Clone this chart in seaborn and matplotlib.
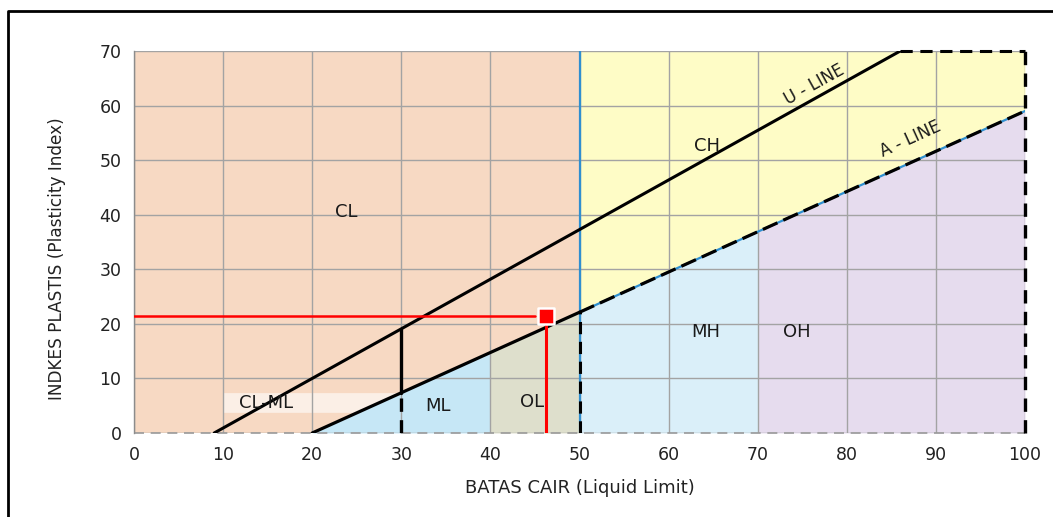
import numpy as np
import matplotlib
matplotlib.use("Agg")
import matplotlib.pyplot as plt
from matplotlib.lines import Line2D
from matplotlib import font_manager
import seaborn as sns

# Plasticity chart data
ll_ticks = [0, 10, 20, 30, 40, 50, 60, 70, 80, 90, 100]
pi_ticks = [0, 10, 20, 30, 40, 50, 60, 70]

u_line_ll = [9.0, 86.0]
u_line_pi = [0.0, 70.0]
a_line_ll = [20.0, 100.0]
a_line_pi = [0.0, 59.0]

sample_ll = [46.2]
sample_pi = [21.4]

zone_names = ["CL", "CH", "MH", "OH", "ML", "OL", "CL-ML"]
zone_ll = [23.8, 64.3, 64.2, 74.4, 34.1, 44.7, 14.8]
zone_pi = [40.5, 52.6, 18.5, 18.5, 4.9, 5.7, 5.5]

clml_band_pi = [3.7, 7.3]

sns.set_style("white")
plt.rcParams["font.family"] = ["DejaVu Sans"]

installed = {f.name for f in font_manager.fontManager.ttflist}
narrow = [f for f in ["Liberation Sans Narrow", "DejaVu Sans Condensed"] if f in installed]
ylabel_family = narrow + ["DejaVu Sans"]
ylabel_size = 14 if narrow else 12.2

fig = plt.figure(figsize=(10.53, 5.17), dpi=100)
W, H = 1053, 517
ax = fig.add_axes([134 / W, 1 - 433 / H, (1025 - 134) / W, (433 - 51) / H])
ax.set_xlim(0, 100)
ax.set_ylim(0, 70)


def a_line(x):
    return np.interp(x, a_line_ll, a_line_pi, left=0.0)


def u_line(x):
    return np.interp(x, u_line_ll, u_line_pi, left=0.0)


c_peach = "#F7D9C3"
c_yellow = "#FEFCC6"
c_ml = "#C6E7F6"
c_ol = "#DEDFCC"
c_mh = "#DAEFF9"
c_oh = "#E6DCEE"

# low-plasticity side background
ax.fill_between([0, 50], 0, 70, color=c_peach, lw=0, zorder=0.2)
# high-plasticity side above the A-line
xs = np.linspace(50, 100, 50)
ax.fill_between(xs, a_line(xs), 70, color=c_yellow, lw=0, zorder=0.2)
# zones below the A-line
for x0, x1, c in [(20, 40, c_ml), (40, 50, c_ol), (50, 70, c_mh), (70, 100, c_oh)]:
    xs = np.linspace(x0, x1, 30)
    ax.fill_between(xs, 0, a_line(xs), color=c, lw=0, zorder=0.25)

# CL-ML band
x_end_low = np.interp(clml_band_pi[0], a_line_pi, a_line_ll)
x_end_high = np.interp(clml_band_pi[1], a_line_pi, a_line_ll)
ax.fill([10, x_end_low, x_end_high, 10],
        [clml_band_pi[0], clml_band_pi[0], clml_band_pi[1], clml_band_pi[1]],
        color="white", alpha=0.6, lw=0, zorder=0.3)

# grid
ax.set_axisbelow(True)
ax.set_xticks(ll_ticks)
ax.set_yticks(pi_ticks)
ax.grid(True, color="#A3A3A3", lw=1.0)

for s in ["top", "right", "bottom"]:
    ax.spines[s].set_visible(False)
ax.spines["left"].set_color("#8C8C8C")
ax.spines["left"].set_linewidth(1.0)
ax.tick_params(axis="both", which="both", direction="out", length=6,
               color="#8C8C8C", width=1, labelsize=12.5, labelcolor="#222222", pad=3)

# dashed baseline
ax.plot([0, 100], [0, 0], color="#9A9A9A", lw=1.2, ls=(0, (6, 4)), zorder=2, clip_on=False)

blue = "#2F8FD0"
a50 = float(a_line(50))
a30 = float(a_line(30))
u30 = float(u_line(30))

# LL = 50 boundary
sns.lineplot(x=[50, 50], y=[a50, 70], color=blue, lw=1.6, ax=ax, estimator=None, sort=False, zorder=3)
sns.lineplot(x=[50, 50], y=[0, a50], color=blue, lw=1.6, ax=ax, estimator=None, sort=False, zorder=3)
sns.lineplot(x=[50, 50], y=[0, a50], color="black", lw=2.2, ls=(0, (4, 2.5)), ax=ax,
             estimator=None, sort=False, zorder=4)

# A-line
sns.lineplot(x=[20, 50], y=[0, a50], color="black", lw=2.3, ax=ax, estimator=None, sort=False, zorder=4)
sns.lineplot(x=[50, 100], y=[a50, a_line_pi[1]], color=blue, lw=1.6, ax=ax,
             estimator=None, sort=False, zorder=3)
sns.lineplot(x=[50, 100], y=[a50, a_line_pi[1]], color="black", lw=2.3, ls=(0, (5, 2)), ax=ax,
             estimator=None, sort=False, zorder=4)

# U-line
sns.lineplot(x=u_line_ll, y=u_line_pi, color="black", lw=2.2, ax=ax, estimator=None, sort=False, zorder=4)

# LL = 30 boundary
sns.lineplot(x=[30, 30], y=[a30, u30], color="black", lw=2.4, ax=ax, estimator=None, sort=False, zorder=4)
sns.lineplot(x=[30, 30], y=[0, a30], color="black", lw=2.4, ls=(0, (4, 2.5)), ax=ax,
             estimator=None, sort=False, zorder=4)

# chart limits
ax.plot([u_line_ll[1], 100], [70, 70], color="black", lw=2.2, ls=(0, (4, 2.5)), zorder=4, clip_on=False)
ax.plot([100, 100], [0, 70], color="black", lw=2.4, ls=(0, (4, 2.5)), zorder=4, clip_on=False)

# sample guide lines and point
ax.plot([0, sample_ll[0] - 1.2], [sample_pi[0], sample_pi[0]], color="#FF0000", lw=1.8, zorder=5)
ax.plot([sample_ll[0], sample_ll[0]], [0, sample_pi[0] - 1.3], color="#FF0000", lw=2.2, zorder=5)
sns.scatterplot(x=sample_ll, y=sample_pi, marker="s", s=130, color="#FF0000",
                edgecolor="white", linewidth=1.8, ax=ax, zorder=6, clip_on=False)

# zone labels
for name, x, y in zip(zone_names, zone_ll, zone_pi):
    ax.text(x, y, name, ha="center", va="center", fontsize=13, color="#1A1A1A", zorder=7)

ax.text(76.4, 63.8, "U - LINE", rotation=29, ha="center", va="center",
        fontsize=12, color="#1A1A1A", zorder=7, rotation_mode="anchor")
ax.text(87.1, 53.8, "A - LINE", rotation=24.5, ha="center", va="center",
        fontsize=12, color="#1A1A1A", zorder=7, rotation_mode="anchor")

ax.set_xlabel("BATAS CAIR (Liquid Limit)", fontsize=13, color="#222222")
ax.xaxis.set_label_coords((580 - 134) / 891, (433 - 488) / 382)
ax.set_ylabel("INDKES PLASTIS (Plasticity Index)", fontsize=ylabel_size, color="#222222",
              family=ylabel_family)
ax.yaxis.set_label_coords((57 - 134) / 891, (433 - 259) / 382)
ax.yaxis.label.set_va("center")
ax.xaxis.label.set_va("center")

# outer frame (left and top edges)
fig.add_artist(Line2D([8 / W, 8 / W, 1.0], [0.0, 1 - 11 / H, 1 - 11 / H],
                      transform=fig.transFigure, color="black", lw=2.0))

fig.savefig("out.png", dpi=100)
